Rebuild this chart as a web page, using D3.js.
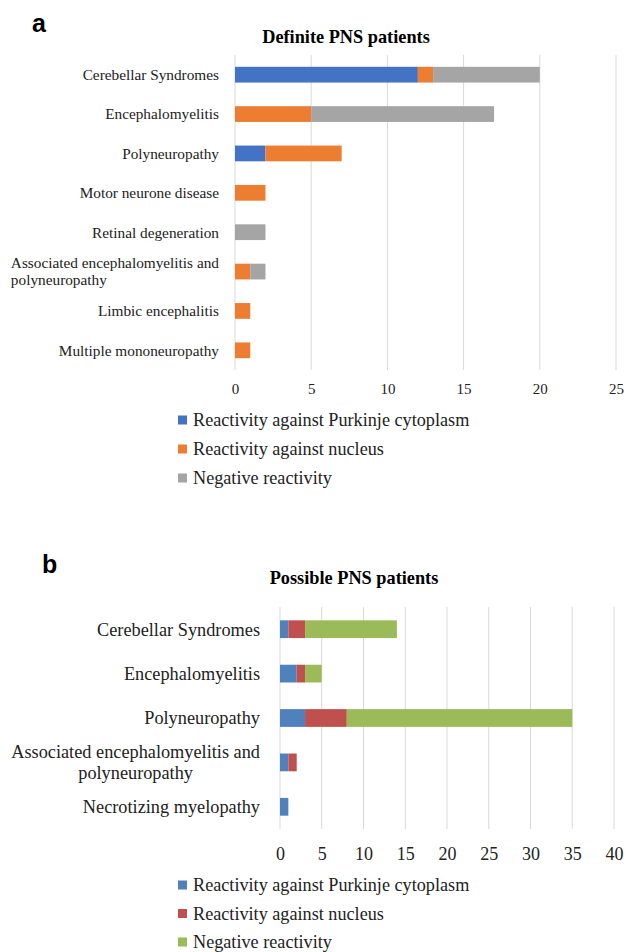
<!DOCTYPE html>
<html>
<head>
<meta charset="utf-8">
<script src="https://cdn.jsdelivr.net/npm/d3@7"></script>
<style>
  body { margin: 0; background: #fff; }
  svg { display: block; }
  svg text { font-family: "Liberation Serif", "Times New Roman", serif; }
  svg text.letter { font-family: "Liberation Sans", Arial, sans-serif; }
</style>
</head>
<body>
<div id="chart"></div>
<script>
// Definite PNS patients (panel a)
const catsA = ["Cerebellar Syndromes", "Encephalomyelitis", "Polyneuropathy", "Motor neurone disease",
               "Retinal degeneration", "Associated encephalomyelitis and|polyneuropathy",
               "Limbic encephalitis", "Multiple mononeuropathy"];
const purkinjeA = [12, 0, 2, 0, 0, 0, 0, 0];
const nucleusA  = [1, 5, 5, 2, 0, 1, 1, 1];
const negativeA = [7, 12, 0, 0, 2, 1, 0, 0];
const ticksA = [0, 5, 10, 15, 20, 25];

// Possible PNS patients (panel b)
const catsB = ["Cerebellar Syndromes", "Encephalomyelitis", "Polyneuropathy",
               "Associated encephalomyelitis and|polyneuropathy", "Necrotizing myelopathy"];
const purkinjeB = [1, 2, 3, 1, 1];
const nucleusB  = [2, 1, 5, 1, 0];
const negativeB = [11, 2, 27, 0, 0];
const ticksB = [0, 5, 10, 15, 20, 25, 30, 35, 40];

const seriesNames = ["Reactivity against Purkinje cytoplasm", "Reactivity against nucleus", "Negative reactivity"];

const svg = d3.select("#chart").append("svg")
    .attr("width", 627).attr("height", 952);

function drawPanel(cfg) {
    const keys = ["p", "n", "g"];
    const rows = cfg.cats.map((c, i) => ({cat: c, p: cfg.p[i], n: cfg.n[i], g: cfg.g[i]}));
    const stacked = d3.stack().keys(keys)(rows);

    const x = d3.scaleLinear().domain([0, d3.max(cfg.ticks)]).range([cfg.left, cfg.right]);
    const y = d3.scaleBand().domain(cfg.cats).range([cfg.top, cfg.bottom]).paddingInner(cfg.pad).paddingOuter(cfg.pad / 2);
    const color = d3.scaleOrdinal().domain(keys).range(cfg.colors);

    const g = svg.append("g");

    // panel letter
    g.append("text")
        .attr("class", "letter")
        .attr("x", cfg.letterX).attr("y", cfg.letterY)
        .attr("font-weight", "bold").attr("font-size", 25)
        .text(cfg.letter);

    // title
    g.append("text")
        .attr("x", cfg.titleX).attr("y", cfg.titleY)
        .attr("text-anchor", "middle")
        .attr("font-weight", "bold").attr("font-size", 18.3)
        .text(cfg.title);

    // gridlines
    g.selectAll(".grid").data(cfg.ticks).join("line")
        .attr("x1", d => x(d)).attr("x2", d => x(d))
        .attr("y1", cfg.top).attr("y2", cfg.bottom)
        .attr("stroke", "#d9d9d9").attr("stroke-width", 1);

    // tick labels via axis
    const axis = g.append("g")
        .attr("transform", `translate(0,${cfg.bottom})`)
        .call(d3.axisBottom(x).tickValues(cfg.ticks).tickSize(0).tickPadding(cfg.tickPad));
    axis.select(".domain").remove();
    axis.selectAll("text")
        .attr("font-size", cfg.tickSize).attr("fill", "#222");

    // bars
    g.selectAll(".layer").data(stacked).join("g")
        .attr("fill", d => color(d.key))
        .selectAll("rect").data(d => d).join("rect")
        .attr("x", d => x(d[0]))
        .attr("y", d => y(d.data.cat))
        .attr("width", d => x(d[1]) - x(d[0]))
        .attr("height", y.bandwidth());

    // category labels
    cfg.cats.forEach(c => {
        const cy = y(c) + y.bandwidth() / 2;
        const lines = c.split("|");
        if (lines.length === 1) {
            g.append("text")
                .attr("x", cfg.labelX).attr("y", cy)
                .attr("dy", "0.35em").attr("text-anchor", "end")
                .attr("font-size", cfg.labelSize).attr("fill", "#222")
                .text(c);
        } else {
            const t1 = g.append("text")
                .attr("x", cfg.labelX).attr("y", cy - cfg.lineGap / 2)
                .attr("dy", "0.35em").attr("text-anchor", "end")
                .attr("font-size", cfg.labelSize).attr("fill", "#222")
                .text(lines[0]);
            const w1 = t1.node().getComputedTextLength();
            const t2 = g.append("text")
                .attr("y", cy + cfg.lineGap / 2)
                .attr("dy", "0.35em")
                .attr("font-size", cfg.labelSize).attr("fill", "#222")
                .text(lines[1]);
            if (cfg.wrapAlign === "left") {
                t2.attr("x", cfg.labelX - w1).attr("text-anchor", "start");
            } else {
                t2.attr("x", cfg.labelX - w1 / 2).attr("text-anchor", "middle");
            }
        }
    });

    // legend
    const leg = g.selectAll(".leg").data(keys).join("g")
        .attr("transform", (d, i) => `translate(${cfg.legX},${cfg.legY + i * cfg.legStep})`);
    leg.append("rect")
        .attr("x", 0).attr("y", -4.5).attr("width", 9).attr("height", 9)
        .attr("fill", d => color(d));
    leg.append("text")
        .attr("x", 15).attr("y", 0).attr("dy", "0.35em")
        .attr("font-size", 18.2).attr("fill", "#222")
        .text((d, i) => seriesNames[i]);
}

drawPanel({
    letter: "a", letterX: 32, letterY: 32,
    title: "Definite PNS patients", titleX: 346, titleY: 43,
    cats: catsA, p: purkinjeA, n: nucleusA, g: negativeA, ticks: ticksA,
    colors: ["#4472c4", "#ed7d31", "#a5a5a5"],
    left: 235, right: 616, top: 55, bottom: 370, pad: 0.6,
    tickPad: 13, tickSize: 15, labelX: 219, labelSize: 15.3, lineGap: 17, wrapAlign: "left",
    legX: 178, legY: 420, legStep: 29
});

drawPanel({
    letter: "b", letterX: 42, letterY: 573,
    title: "Possible PNS patients", titleX: 354, titleY: 584,
    cats: catsB, p: purkinjeB, n: nucleusB, g: negativeB, ticks: ticksB,
    colors: ["#4f81bd", "#c0504d", "#9bbb59"],
    left: 280, right: 614, top: 607, bottom: 829, pad: 0.6,
    tickPad: 18, tickSize: 18, labelX: 260, labelSize: 18.3, lineGap: 21, wrapAlign: "center",
    legX: 178, legY: 885, legStep: 28.5
});
</script>
</body>
</html>
